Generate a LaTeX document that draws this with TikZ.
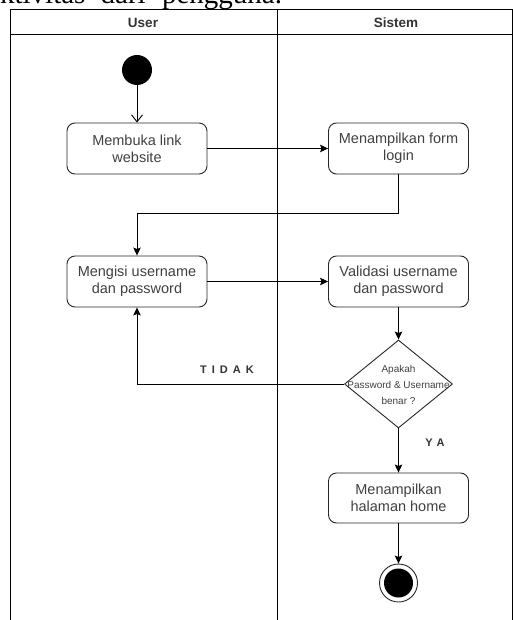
\documentclass[tikz,border=0pt]{standalone}
\usepackage{fontspec}
\setmainfont{Liberation Sans}
\newfontfamily\captionserif{Liberation Serif}
\usetikzlibrary{shapes.geometric,arrows.meta}
\definecolor{boxtext}{HTML}{404040}
\definecolor{headtext}{HTML}{333333}
\tikzset{
  actbox/.style={draw=black!85, line width=0.9pt, rounded corners=8pt,
    minimum width=140pt, minimum height=51pt, inner sep=0pt,
    align=center, text=boxtext, font=\fontsize{14.5}{17}\selectfont},
  arr/.style={line width=0.9pt, -{Stealth[length=8pt,width=7.5pt,inset=1.5pt]}},
  openarr/.style={line width=0.9pt, -{Straight Barb[length=7pt,width=11pt]}},
  lane/.style={line width=1pt, draw=black},
  headlbl/.style={font=\bfseries\fontsize{13.5}{16}\selectfont, text=headtext},
  guard/.style={font=\bfseries\fontsize{11}{13}\selectfont, text=headtext},
}
\begin{document}
\begin{tikzpicture}[x=1pt,y=-1pt]
  \useasboundingbox (0,0) rectangle (513,620);
  \clip (0,0) rectangle (513,620);

  % caption line of the surrounding (justified) text
  \node[anchor=base west, inner sep=0pt, font=\captionserif\fontsize{29}{31}\selectfont]
    (caption) at (-13,4) {aktivitas\hspace{8pt} dari\hspace{9pt} pengguna.};

  % swimlanes
  \draw[lane] (10,620) -- (10,10) -- (512,10) -- (512,620);
  \draw[lane] (10,35) -- (512,35);
  \draw[lane] (277,10) -- (277,620);
  \node[headlbl] (userlane) at (143,22.5) {User};
  \node[headlbl] (systemlane) at (396,22.5) {Sistem};

  % activities
  \node[circle, fill=black, minimum size=30pt, inner sep=0pt] (start) at (137,70) {};
  \node[actbox] (b1) at (137,148.5) {Membuka link\\website};
  \node[actbox] (b2) at (398.5,148.5) {Menampilkan form\\login};
  \node[actbox] (b3) at (137,281.5) {Mengisi username\\dan password};
  \node[actbox] (b4) at (398.5,281.5) {Validasi username\\dan password};
  \node[diamond, draw=black!85, line width=0.9pt, minimum width=108pt,
        minimum height=88pt, inner sep=0pt] (dec) at (398.5,384) {};
  \node[align=center, text=boxtext, font=\fontsize{10}{16}\selectfont, inner sep=0pt]
    (dectext) at (398.5,385) {Apakah\\Password \& Username\\benar ?};
  \node[actbox, minimum height=50pt] (b5) at (398.5,498) {Menampilkan\\halaman home};
  \node[circle, draw=black!85, line width=0.9pt, minimum size=38pt, inner sep=0pt] (end) at (398.5,583) {};
  \node[circle, fill=black, minimum size=29pt, inner sep=0pt] (endcore) at (end.center) {};

  % flows
  \coordinate (j1) at (137,213);
  \draw[openarr] (start) -- (b1);
  \draw[arr] (b1.east) -- (b2.west);
  \draw[arr] (b2.south) |- (j1) -- (b3.north);
  \draw[arr] (b3.east) -- (b4.west);
  \draw[arr] (b4.south) -- (dec.north);
  \draw[arr] (dec.west) -| (b3.south);
  \draw[arr] (dec.south) -- (b5.north);
  \draw[arr] (b5.south) -- (end.north);

  % guards
  \node[guard] (tidak) at (227,370) {T\kern5ptI\kern5ptD\kern5ptA\kern5ptK};
  \node[guard] (ya) at (435,443) {Y\kern4ptA};
\end{tikzpicture}
\end{document}
